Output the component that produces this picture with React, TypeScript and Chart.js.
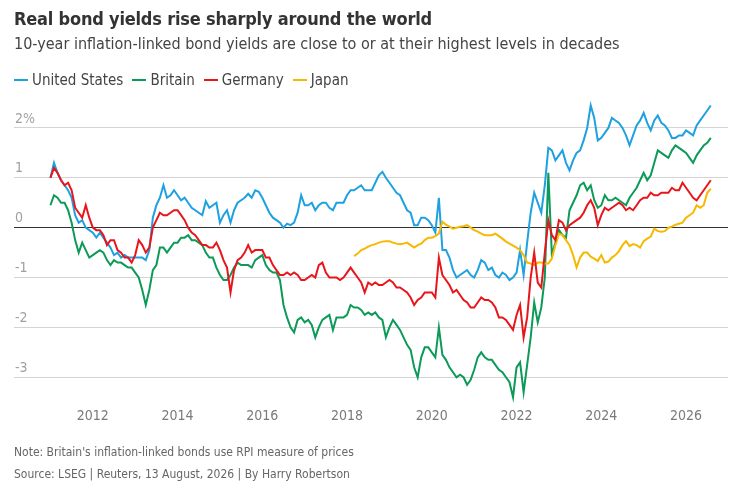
import React, { useEffect, useRef } from 'react';
import { Chart, registerables } from 'chart.js';
Chart.register(...registerables);

// monthly readings, Jan 2011 - Aug 2026 (Japan from Mar 2018)
const usYields = [
  1.0, 1.3, 1.1, 0.95, 0.85, 0.75, 0.6, 0.25, 0.1, 0.15, 0.0, -0.05,
  -0.1, -0.2, -0.1, -0.2, -0.3, -0.4, -0.55, -0.5, -0.6, -0.55, -0.6, -0.6,
  -0.6, -0.6, -0.6, -0.65, -0.45, 0.2, 0.45, 0.6, 0.85, 0.6, 0.65, 0.75,
  0.65, 0.55, 0.6, 0.5, 0.4, 0.35, 0.3, 0.25, 0.53, 0.4, 0.45, 0.5,
  0.1, 0.25, 0.35, 0.1, 0.35, 0.5, 0.55, 0.6, 0.68, 0.6, 0.75, 0.72,
  0.6, 0.45, 0.3, 0.2, 0.15, 0.1, 0.0, 0.08, 0.05, 0.1, 0.3, 0.65,
  0.45, 0.45, 0.5, 0.35, 0.45, 0.5, 0.5, 0.4, 0.35, 0.5, 0.5, 0.5,
  0.65, 0.75, 0.75, 0.8, 0.85, 0.75, 0.75, 0.75, 0.9, 1.05, 1.12, 1.0,
  0.9, 0.8, 0.7, 0.65, 0.5, 0.35, 0.3, 0.05, 0.05, 0.2, 0.2, 0.15,
  0.05, -0.1, 0.6, -0.45, -0.45, -0.6, -0.85, -1.0, -0.95, -0.9, -0.85, -0.95,
  -1.0, -0.85, -0.65, -0.7, -0.85, -0.8, -0.95, -1.0, -0.9, -0.95, -1.05, -1.0,
  -0.9, -0.45, -0.95, -0.3, 0.3, 0.7, 0.5, 0.3, 0.85, 1.6, 1.55, 1.35,
  1.45, 1.55, 1.3, 1.15, 1.35, 1.5, 1.55, 1.75, 2.0, 2.45, 2.2, 1.75,
  1.8, 1.9, 2.0, 2.2, 2.15, 2.1, 2.0, 1.85, 1.65, 1.85, 2.05, 2.15,
  2.3, 2.1, 1.95, 2.15, 2.25, 2.1, 2.05, 1.95, 1.8, 1.8, 1.85, 1.85,
  1.95, 1.9, 1.85, 2.05, 2.15, 2.25, 2.35, 2.45,
];

const ukYields = [
  0.45, 0.65, 0.6, 0.5, 0.5, 0.35, 0.1, -0.25, -0.5, -0.3, -0.45, -0.6,
  -0.55, -0.5, -0.45, -0.5, -0.65, -0.75, -0.65, -0.7, -0.7, -0.75, -0.8, -0.8,
  -0.9, -1.0, -1.25, -1.55, -1.25, -0.85, -0.75, -0.4, -0.4, -0.5, -0.4, -0.3,
  -0.3, -0.2, -0.2, -0.15, -0.25, -0.25, -0.3, -0.35, -0.5, -0.6, -0.6, -0.8,
  -0.95, -1.05, -1.05, -0.95, -0.8, -0.7, -0.75, -0.75, -0.75, -0.8, -0.65, -0.6,
  -0.55, -0.75, -0.85, -0.9, -0.9, -1.05, -1.55, -1.8, -2.0, -2.1, -1.85, -1.8,
  -1.9, -1.85, -1.95, -2.2, -2.0, -1.85, -1.8, -1.75, -2.05, -1.8, -1.8, -1.8,
  -1.75, -1.55, -1.6, -1.6, -1.65, -1.75, -1.7, -1.75, -1.7, -1.8, -1.85, -2.2,
  -2.0, -1.85, -1.95, -2.05, -2.2, -2.35, -2.45, -2.8, -3.0, -2.6, -2.4, -2.4,
  -2.5, -2.6, -2.0, -2.55, -2.65, -2.8, -2.9, -3.0, -2.95, -3.0, -3.15, -3.05,
  -2.85, -2.6, -2.5, -2.6, -2.65, -2.65, -2.75, -2.85, -2.9, -3.0, -3.1, -3.4,
  -2.8, -2.7, -3.3, -2.75, -2.2, -1.5, -1.9, -1.6, -1.0, 1.1, -0.55, -0.3,
  -0.05, -0.15, -0.2, 0.35, 0.5, 0.65, 0.85, 0.9, 0.75, 0.85, 0.55, 0.4,
  0.45, 0.65, 0.55, 0.55, 0.6, 0.55, 0.5, 0.45, 0.6, 0.7, 0.8, 0.95,
  1.1, 0.95, 1.05, 1.3, 1.55, 1.5, 1.45, 1.4, 1.55, 1.65, 1.6, 1.55,
  1.5, 1.4, 1.3, 1.45, 1.55, 1.65, 1.7, 1.8,
];

const deYields = [
  1.0, 1.2, 1.1, 0.95, 0.85, 0.9, 0.75, 0.4, 0.3, 0.2, 0.45, 0.2,
  0.0, -0.05, -0.05, -0.15, -0.35, -0.25, -0.25, -0.45, -0.5, -0.6, -0.6, -0.7,
  -0.55, -0.25, -0.35, -0.5, -0.4, 0.0, 0.15, 0.3, 0.25, 0.25, 0.3, 0.35,
  0.35, 0.25, 0.15, 0.0, -0.1, -0.15, -0.25, -0.35, -0.35, -0.4, -0.4, -0.3,
  -0.45, -0.65, -0.8, -1.3, -0.85, -0.65, -0.6, -0.5, -0.35, -0.5, -0.45, -0.45,
  -0.45, -0.6, -0.6, -0.75, -0.85, -0.95, -0.95, -0.9, -0.95, -0.9, -0.95, -1.05,
  -1.05, -1.0, -0.95, -1.0, -0.75, -0.7, -0.9, -1.0, -1.0, -1.0, -1.05, -1.0,
  -0.9, -0.8, -0.9, -1.0, -1.1, -1.3, -1.1, -1.15, -1.1, -1.15, -1.15, -1.1,
  -1.05, -1.1, -1.2, -1.2, -1.25, -1.3, -1.4, -1.55, -1.45, -1.4, -1.3, -1.3,
  -1.3, -1.4, -0.6, -0.95, -1.05, -1.15, -1.3, -1.25, -1.35, -1.45, -1.5, -1.6,
  -1.6, -1.5, -1.4, -1.45, -1.45, -1.5, -1.6, -1.8, -1.8, -1.85, -1.95, -2.05,
  -1.75, -1.55, -2.2, -1.8, -1.0, -0.5, -1.1, -1.2, -0.5, 0.15, -0.15, -0.25,
  0.15, 0.1, -0.05, 0.05, 0.1, 0.15, 0.2, 0.3, 0.45, 0.55, 0.4, 0.05,
  0.25, 0.4, 0.35, 0.4, 0.45, 0.5, 0.45, 0.35, 0.4, 0.35, 0.45, 0.55,
  0.6, 0.6, 0.7, 0.65, 0.65, 0.7, 0.7, 0.7, 0.8, 0.75, 0.75, 0.9,
  0.8, 0.7, 0.6, 0.55, 0.65, 0.75, 0.85, 0.95,
];

const jpYields = [
  -0.57, -0.52, -0.45, -0.42, -0.38, -0.35, -0.33, -0.3, -0.28, -0.27,
  -0.27, -0.3, -0.32, -0.33, -0.32, -0.3, -0.35, -0.4, -0.35, -0.32, -0.25, -0.2,
  -0.2, -0.17, -0.12, 0.12, 0.06, 0.02, -0.02, 0.0, 0.02, 0.03, 0.05, 0.0,
  -0.05, -0.08, -0.12, -0.15, -0.15, -0.15, -0.12, -0.17, -0.22, -0.28, -0.32, -0.36,
  -0.4, -0.45, -0.55, -0.7, -0.72, -0.75, -0.7, -0.7, -0.72, -0.72, -0.62, -0.35,
  -0.12, -0.15, -0.25, -0.35, -0.55, -0.8, -0.6, -0.5, -0.5, -0.58, -0.62, -0.67,
  -0.55, -0.7, -0.68, -0.6, -0.55, -0.47, -0.35, -0.27, -0.37, -0.33, -0.35, -0.4,
  -0.27, -0.22, -0.18, -0.02, -0.07, -0.08, -0.07, 0.0, 0.02, 0.06, 0.08, 0.1,
  0.2, 0.25, 0.3, 0.45, 0.4, 0.45, 0.7, 0.78,
];

const yearTicks = [2012, 2014, 2016, 2018, 2020, 2022, 2024, 2026];
const yieldTicks = [-3, -2, -1, 0, 1, 2];

const FONT = '"DejaVu Sans Condensed", "DejaVu Sans", sans-serif';

const series = [
  { label: 'United States', color: '#1ea1e0', values: usYields, startYear: 2011, startMonth: 0, order: 4 },
  { label: 'Britain', color: '#0c9a58', values: ukYields, startYear: 2011, startMonth: 0, order: 3 },
  { label: 'Germany', color: '#e8151b', values: deYields, startYear: 2011, startMonth: 0, order: 1 },
  { label: 'Japan', color: '#f7b800', values: jpYields, startYear: 2018, startMonth: 2, order: 2 },
];

export default function App(): React.ReactElement {
  const canvasRef = useRef<HTMLCanvasElement | null>(null);
  const chartRef = useRef<Chart | null>(null);

  useEffect(() => {
    document.body.style.margin = '0';
    if (!canvasRef.current) return;
    const ctx = canvasRef.current.getContext('2d');
    if (!ctx) return;
    if (chartRef.current) chartRef.current.destroy();

    chartRef.current = new Chart(ctx, {
      type: 'line',
      data: {
        datasets: series.map((s) => ({
          label: s.label,
          data: s.values.map((v, i) => ({ x: s.startYear + (s.startMonth + i) / 12, y: v })),
          borderColor: s.color,
          backgroundColor: s.color,
          borderWidth: 2,
          pointRadius: 0,
          tension: 0,
          fill: false,
          order: s.order,
        })),
      },
      options: {
        responsive: true,
        maintainAspectRatio: false,
        animation: false,
        layout: { padding: { left: 12, right: 7, top: 98, bottom: 63 } },
        plugins: {
          legend: { display: false },
          tooltip: { enabled: false },
        },
        scales: {
          x: {
            type: 'linear',
            min: 2010.14,
            max: 2026.99,
            afterBuildTicks: (scale: any) => {
              scale.ticks = yearTicks.map((v) => ({ value: v }));
            },
            grid: { display: false, drawTicks: false },
            border: { display: false },
            ticks: {
              color: '#7a7a7a',
              padding: 0,
              maxRotation: 0,
              font: { family: FONT, size: 14 },
              callback: (v: any) => String(v),
            },
          },
          y: {
            min: -3.62,
            max: 2.6,
            afterBuildTicks: (scale: any) => {
              scale.ticks = yieldTicks.map((v) => ({ value: v }));
            },
            grid: {
              drawTicks: false,
              color: (c: any) => (c.tick && c.tick.value === 0 ? '#333333' : '#d4d4d4'),
              lineWidth: 1,
            },
            border: { display: false },
            ticks: {
              mirror: true,
              padding: 1,
              labelOffset: -9,
              color: '#a0a0a0',
              font: { family: FONT, size: 14 },
              callback: (v: any) => (v === 2 ? '2%' : String(v)),
            },
          },
        },
      },
    });

    return () => {
      if (chartRef.current) {
        chartRef.current.destroy();
        chartRef.current = null;
      }
    };
  }, []);

  return (
    <div style={{ position: 'relative', width: 735, height: 488, fontFamily: FONT, background: '#fff' }}>
      <div style={{ position: 'absolute', left: 0, top: 0, width: 735, height: 488 }}>
        <canvas ref={canvasRef} />
      </div>
      <div style={{ position: 'absolute', left: 14, top: 8, fontSize: 18, lineHeight: '22px', fontWeight: 'bold', color: '#333', letterSpacing: -0.2, whiteSpace: 'nowrap' }}>
        Real bond yields rise sharply around the world
      </div>
      <div style={{ position: 'absolute', left: 14, top: 34, fontSize: 16, lineHeight: '20px', color: '#444', whiteSpace: 'nowrap' }}>
        10-year inflation-linked bond yields are close to or at their highest levels in decades
      </div>
      <div style={{ position: 'absolute', left: 14, top: 70, fontSize: 15, lineHeight: '20px', color: '#444', display: 'flex' }}>
        {series.map((s) => (
          <div key={s.label} style={{ display: 'flex', alignItems: 'center', marginRight: 9 }}>
            <span style={{ display: 'inline-block', width: 14, height: 2, background: s.color, marginRight: 4 }} />
            <span>{s.label}</span>
          </div>
        ))}
      </div>
      <div style={{ position: 'absolute', left: 14, top: 444, fontSize: 12, lineHeight: '16px', color: '#666' }}>
        Note: Britain's inflation-linked bonds use RPI measure of prices
      </div>
      <div style={{ position: 'absolute', left: 14, top: 466, fontSize: 12, lineHeight: '16px', color: '#666' }}>
        Source: LSEG | Reuters, 13 August, 2026 | By Harry Robertson
      </div>
    </div>
  );
}
